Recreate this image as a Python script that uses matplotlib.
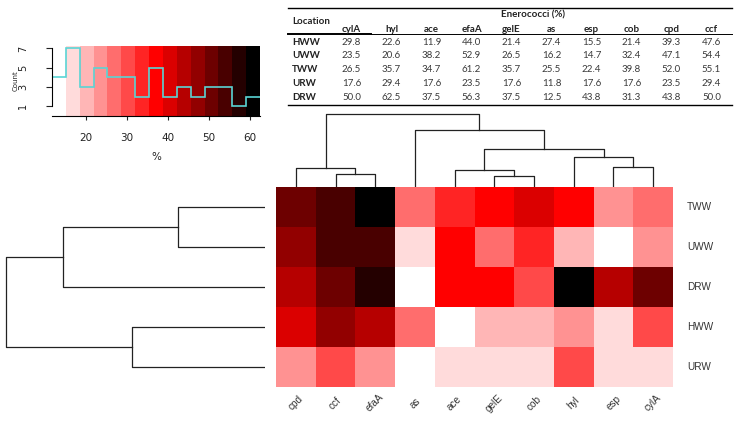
import numpy as np
import pandas as pd
import matplotlib
matplotlib.use('Agg')
import matplotlib.pyplot as plt
from matplotlib.colors import ListedColormap, BoundaryNorm

# table values (Enerococci %), rows = location, cols = gene
locations = ['HWW', 'UWW', 'TWW', 'URW', 'DRW']
genes = ['cylA', 'hyl', 'ace', 'efaA', 'gelE', 'as', 'esp', 'cob', 'cpd', 'ccf']
HWW = [29.8, 22.6, 11.9, 44.0, 21.4, 27.4, 15.5, 21.4, 39.3, 47.6]
UWW = [23.5, 20.6, 38.2, 52.9, 26.5, 16.2, 14.7, 32.4, 47.1, 54.4]
TWW = [26.5, 35.7, 34.7, 61.2, 35.7, 25.5, 22.4, 39.8, 52.0, 55.1]
URW = [17.6, 29.4, 17.6, 23.5, 17.6, 11.8, 17.6, 17.6, 23.5, 29.4]
DRW = [50.0, 62.5, 37.5, 56.3, 37.5, 12.5, 43.8, 31.3, 43.8, 50.0]

# clustering order and merge heights
row_order = ['TWW', 'UWW', 'DRW', 'HWW', 'URW']
col_order = ['cpd', 'ccf', 'efaA', 'as', 'ace', 'gelE', 'cob', 'hyl', 'esp', 'cylA']
# (left, right, height): negative = leaf position (1-based), positive = earlier merge
col_merge = [(-2, -3, 12.7), (-1, 1, 18.7), (-6, -7, 10.7), (-5, 3, 16.7),
             (-9, -10, 19.7), (-8, 5, 29.7), (4, 6, 37.3), (-4, 7, 56.3), (2, 8, 73.0)]
row_merge = [(-1, -2, 86.7), (1, -3, 202.3), (-4, -5, 133.3), (2, 3, 259.0)]

df = pd.DataFrame([HWW, UWW, TWW, URW, DRW], index=locations, columns=genes)
mat = df.loc[row_order, col_order].values

# 15 colours white -> red -> black, breaks from min to max
ncol = 15
cols = []
for k in range(ncol):
    if k <= 7:
        cols.append((1, 1 - k / 7, 1 - k / 7))
    else:
        cols.append(((14 - k) / 7, 0, 0))
cmap = ListedColormap(cols)
vals = df.values.ravel()
breaks = np.linspace(vals.min(), vals.max(), ncol + 1)
norm = BoundaryNorm(breaks, ncol)

W, H = 740, 422
fig = plt.figure(figsize=(W / 100, H / 100), dpi=100)


def box(x0, y0, x1, y1):
    return [x0 / W, 1 - y1 / H, (x1 - x0) / W, (y1 - y0) / H]


def px(x, y):
    return x / W, 1 - y / H


lab_col = '#333333'
line_col = '#222222'

# heatmap
hx0, hx1, hy0, hy1 = 276, 673, 186.5, 387
ax = fig.add_axes(box(hx0, hy0, hx1, hy1))
ax.pcolormesh(np.arange(11), np.arange(6), mat, cmap=cmap, norm=norm)
ax.set_xlim(0, 10)
ax.set_ylim(5, 0)
ax.axis('off')
cw = (hx1 - hx0) / 10
for i, g in enumerate(col_order):
    fig.text(*px(hx0 + (i + 0.5) * cw, 403), g, rotation=45, ha='center', va='center',
             fontsize=7.2, color=lab_col, family='Liberation Sans')
rh = (hy1 - hy0) / 5
for j, r in enumerate(row_order):
    fig.text(*px(687, hy0 + (j + 0.5) * rh), r, ha='left', va='center',
             fontsize=7.2, color=lab_col, family='Liberation Sans')


def draw_dendro(ax, merge, n, top):
    pos = {-(i + 1): i + 0.5 for i in range(n)}
    hgt = {-(i + 1): 0 for i in range(n)}
    for k, (a, b, h) in enumerate(merge, start=1):
        xa, xb, ha, hb = pos[a], pos[b], hgt[a], hgt[b]
        if top:
            ax.plot([xa, xa, xb, xb], [ha, h, h, hb], color=line_col, lw=0.9)
        else:
            ax.plot([ha, h, h, hb], [xa, xa, xb, xb], color=line_col, lw=0.9)
        pos[k] = (xa + xb) / 2
        hgt[k] = h


# column dendrogram
axc = fig.add_axes(box(hx0, 110, hx1, hy0))
draw_dendro(axc, col_merge, 10, True)
axc.set_xlim(0, 10)
axc.set_ylim(0, hy0 - 110)
axc.axis('off')

# row dendrogram
axr = fig.add_axes(box(0, hy0, 265, hy1))
draw_dendro(axr, row_merge, 5, False)
axr.set_xlim(265, 0)
axr.set_ylim(5, 0)
axr.axis('off')

# colour key with histogram
axk = fig.add_axes(box(52, 46, 260, 116))
counts, _ = np.histogram(vals, bins=breaks)
axk.pcolormesh(breaks, [0, 7.25], np.array([breaks[:-1] + 0.01]), cmap=cmap, norm=norm)
axk.stairs(counts, breaks, baseline=None, color='#5ad4d4', lw=1.2)
axk.set_xlim(breaks[0], breaks[-1])
axk.set_ylim(0, 7.25)
axk.set_xticks([20, 30, 40, 50, 60])
axk.set_yticks([1, 3, 5, 7])
axk.tick_params(axis='x', length=3, width=0.8, pad=9, labelsize=7.5, colors='#222222')
axk.tick_params(axis='y', length=4, width=0.8, pad=13, labelsize=7, colors='#222222',
                labelrotation=90)
for t in axk.get_yticklabels():
    t.set_va('center')
axk.spines['top'].set_visible(False)
axk.spines['right'].set_visible(False)
axk.spines['left'].set_bounds(1, 7)
axk.spines['left'].set_linewidth(0.8)
axk.spines['bottom'].set_linewidth(0.8)
axk.set_xlabel('%', fontsize=7.5, labelpad=7, color='#222222')
axk.set_ylabel('Count', fontsize=5, labelpad=0, color='#222222')

# table
tf = 'Lato'
fs = 7
fig.add_artist(plt.Line2D([288 / W, 732 / W], [1 - 7.5 / H] * 2, color='black', lw=1.0))
fig.add_artist(plt.Line2D([288 / W, 371 / W], [1 - 34.3 / H] * 2, color='black', lw=1.4))
fig.add_artist(plt.Line2D([371 / W, 732 / W], [1 - 34.0 / H] * 2, color='black', lw=0.7))
fig.add_artist(plt.Line2D([288 / W, 732 / W], [1 - 104.5 / H] * 2, color='black', lw=1.0))
fig.text(*px(292, 21.5), 'Location', ha='left', va='center', fontsize=fs,
         fontweight='bold', family=tf, color='#222222')
fig.text(*px(533, 15), 'Enerococci (%)', ha='center', va='center', fontsize=fs,
         fontweight='bold', family=tf, color='#222222')
for i, g in enumerate(genes):
    fig.text(*px(351.5 + 40 * i, 29.3), g, ha='center', va='center', fontsize=fs,
             fontweight='bold', family=tf, color='#222222')
row_y = [42.7, 56.0, 69.7, 83.7, 97.3]
for j, loc in enumerate(locations):
    fig.text(*px(292, row_y[j]), loc, ha='left', va='center', fontsize=fs,
             fontweight='bold', family=tf, color='#222222')
    for i, g in enumerate(genes):
        fig.text(*px(351.5 + 40 * i, row_y[j]), f'{df.loc[loc, g]:.1f}', ha='center',
                 va='center', fontsize=fs, color='#3a3a3a', family=tf)

fig.savefig('out.png', dpi=100)
